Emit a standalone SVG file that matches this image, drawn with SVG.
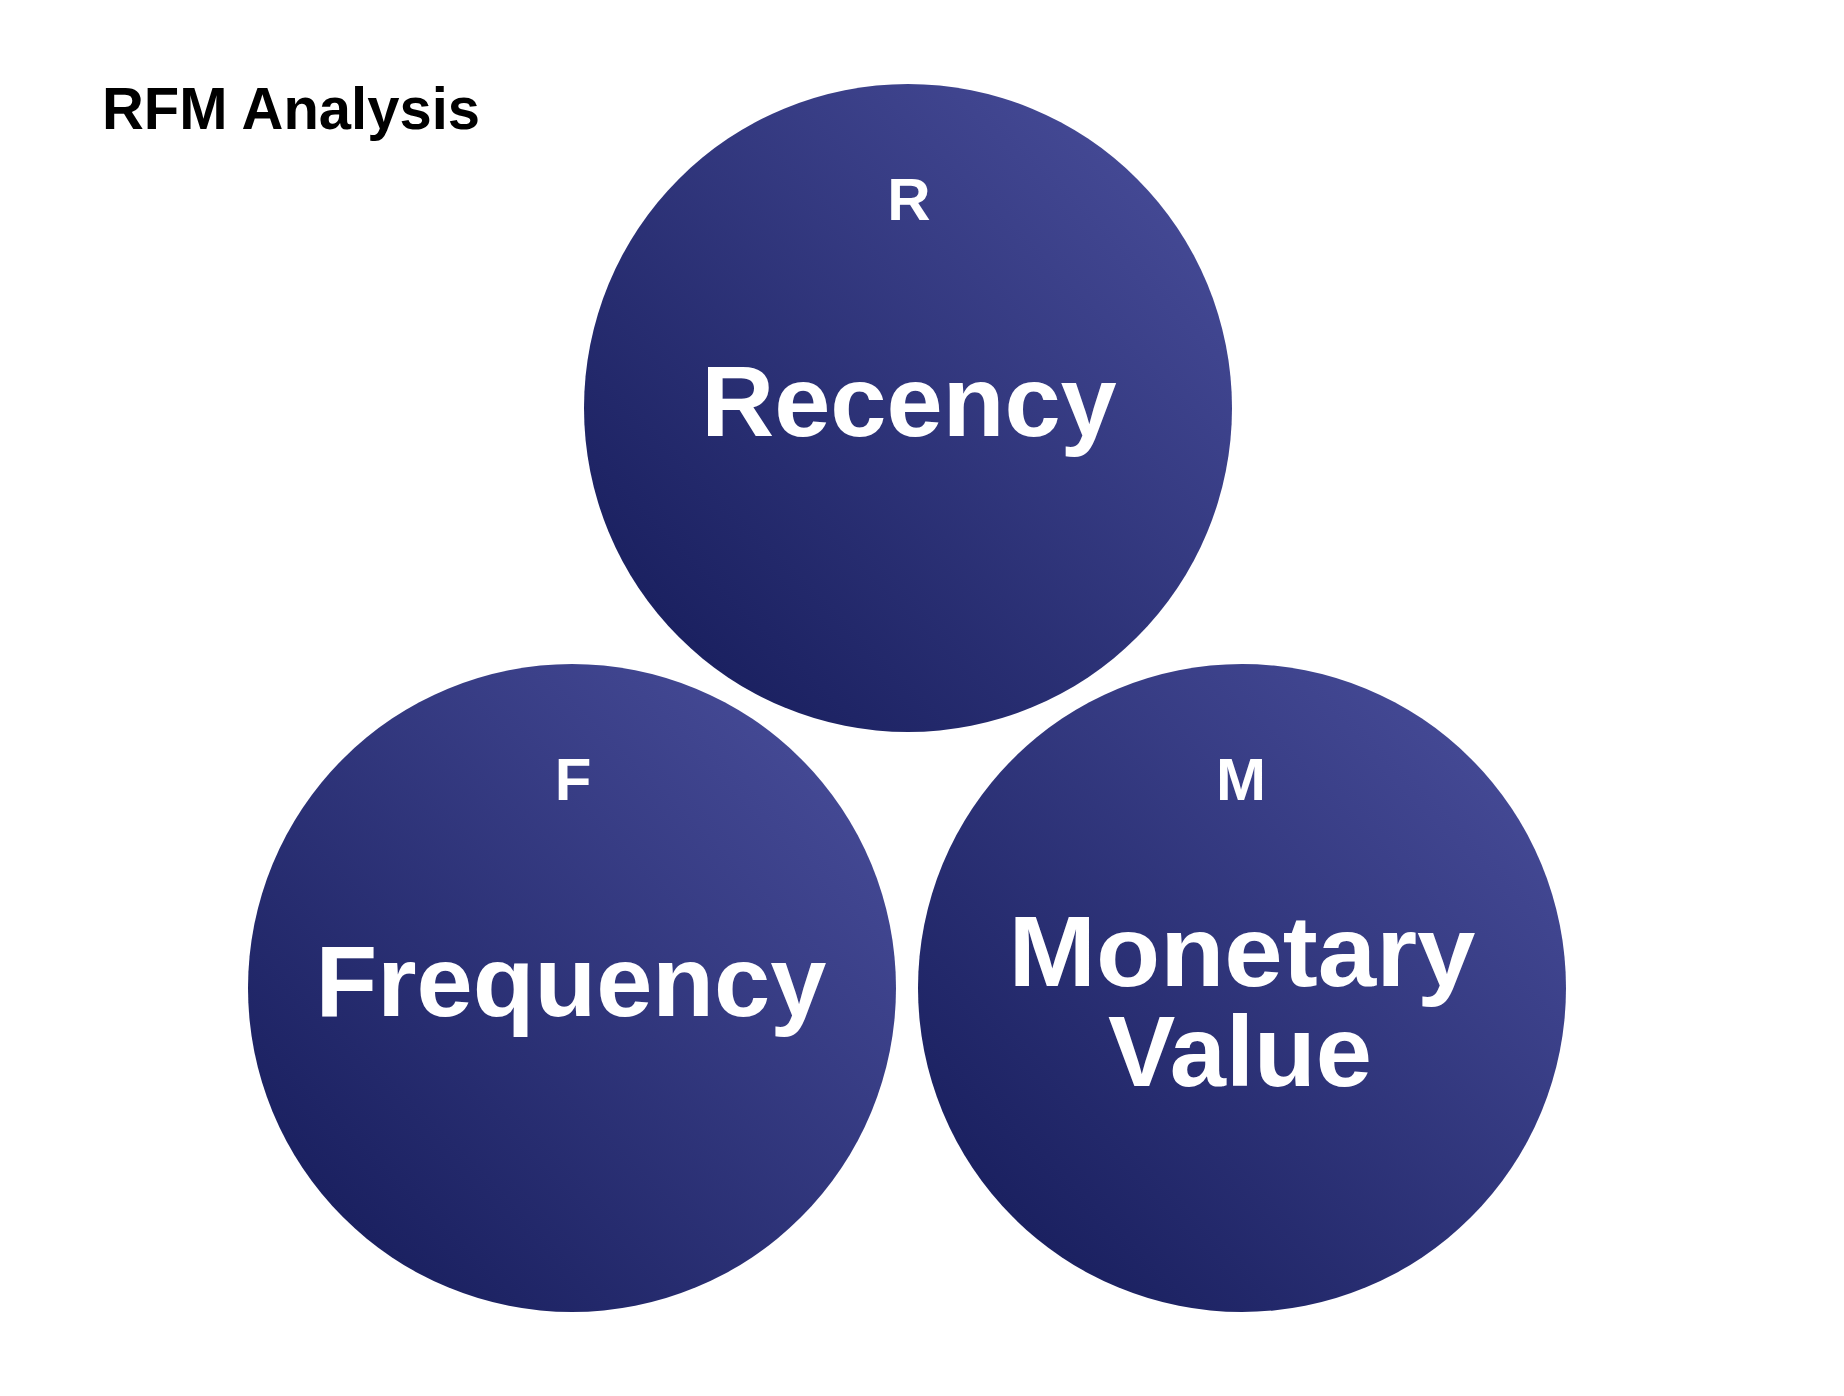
<svg xmlns="http://www.w3.org/2000/svg" width="1844" height="1396" viewBox="0 0 1844 1396">
<defs>
<linearGradient id="g" x1="0.15" y1="0.85" x2="0.85" y2="0.15">
<stop offset="0" stop-color="#1b2161"/>
<stop offset="1" stop-color="#434893"/>
</linearGradient>
<style>
.c{fill:url(#g)}
.t{font-family:"Liberation Sans",Arial,sans-serif;font-weight:bold;fill:#fff;text-anchor:middle}
.s{font-size:60px}
.b{font-size:101px}
.title{font-family:"Liberation Sans",Arial,sans-serif;font-weight:bold;font-size:60px;fill:#000}
</style>
</defs>
<rect width="1844" height="1396" fill="#fff"/>
<text class="title" x="102" y="129" textLength="378" lengthAdjust="spacingAndGlyphs">RFM Analysis</text>
<g id="recency">
<circle class="c" cx="908" cy="408" r="324"/>
<text class="t s" x="909" y="220">R</text>
<text class="t b" x="909" y="436">Recency</text>
</g>
<g id="frequency">
<circle class="c" cx="572" cy="988" r="324"/>
<text class="t s" x="573" y="800">F</text>
<text class="t b" x="571" y="1016">Frequency</text>
</g>
<g id="monetary">
<circle class="c" cx="1242" cy="988" r="324"/>
<text class="t s" x="1241" y="800">M</text>
<text class="t b"><tspan x="1242" y="986" textLength="467" lengthAdjust="spacingAndGlyphs">Monetary</tspan><tspan x="1240" y="1086">Value</tspan></text>
</g>
<g id="connectors"/>
</svg>
